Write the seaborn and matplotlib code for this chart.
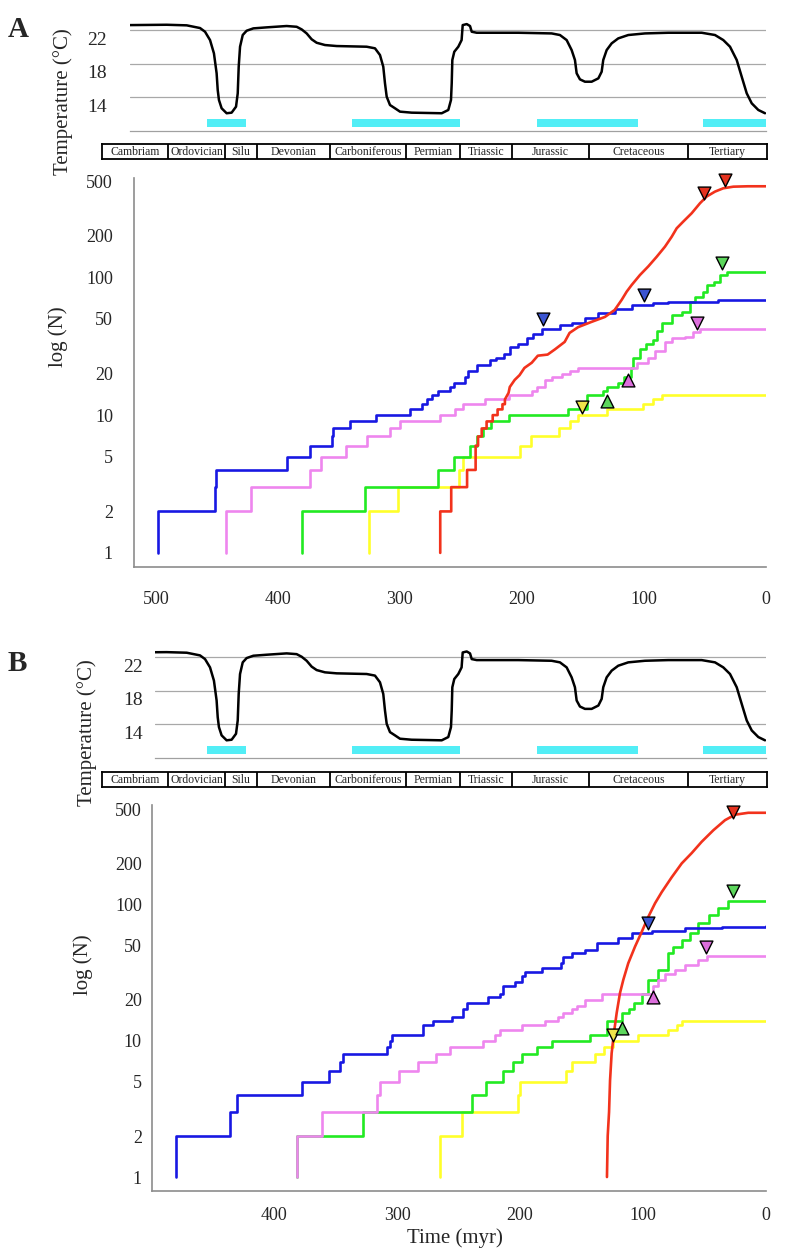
import matplotlib
matplotlib.use('Agg')
import matplotlib.pyplot as plt
import matplotlib.transforms as mtransforms
from matplotlib.ticker import FixedLocator, NullLocator
import seaborn as sns

# ---- temperature curve (myr before present, deg C), same in both panels
temp_time = [521.3, 491.2, 474.8, 463.9, 459.8, 455.7, 452.5, 450.3, 449.4, 448.4, 446.2, 442.1,
             438.0, 434.4, 433.0, 432.2, 431.1, 428.9, 425.7, 420.2, 409.3, 392.9, 384.7, 380.6,
             376.5, 372.4, 368.3, 361.5, 351.9, 327.3, 320.5, 316.4, 313.7, 312.3, 310.9, 308.2,
             304.1, 300.0, 290.4, 265.8, 260.4, 258.2, 257.6, 257.1, 255.5, 252.2, 249.5, 248.9,
             248.6, 245.3, 242.6, 241.2, 237.1, 203.0, 175.7, 168.9, 163.4, 159.3, 156.6, 155.2,
             152.5, 148.4, 142.9, 137.4, 134.7, 133.4, 130.6, 126.5, 121.1, 112.9, 99.2, 80.1,
             52.7, 41.8, 35.0, 29.5, 24.0, 19.9, 15.8, 11.7, 6.3, 0.8]
temp_value = [22.59, 22.63, 22.56, 22.24, 21.80, 20.81, 19.23, 16.86, 14.87, 13.69, 12.70, 12.11,
              12.18, 12.89, 14.48, 17.64, 20.02, 21.41, 21.92, 22.20, 22.32, 22.48, 22.39, 22.08,
              21.60, 20.90, 20.49, 20.22, 20.10, 20.02, 19.83, 19.03, 17.64, 15.67, 14.08, 13.09,
              12.70, 12.30, 12.18, 12.11, 12.50, 13.69, 15.67, 18.44, 19.42, 20.02, 20.81, 22.00,
              22.59, 22.71, 22.48, 21.80, 21.68, 21.68, 21.60, 21.41, 20.81, 19.62, 18.44, 16.86,
              16.14, 15.86, 15.86, 16.26, 17.05, 18.44, 19.62, 20.42, 21.01, 21.41, 21.60, 21.68,
              21.68, 21.41, 20.81, 20.02, 18.44, 16.45, 14.48, 13.29, 12.50, 12.11]
temp_ticks = [22, 18, 14]

# cold intervals (cyan bars)
cold_start = [458, 339, 188, 52]
cold_end = [426, 251, 105, 0]

# geological periods
period_names = ['Cambriam', 'Ordovician', 'Silu', 'Devonian', 'Carboniferous',
                'Permian', 'Triassic', 'Jurassic', 'Cretaceous', 'Tertiary']
period_bounds = [544, 490, 443, 417, 357, 295, 251, 208, 145, 64, 0]

count_ticks = [1, 2, 5, 10, 20, 50, 100, 200, 500]

# ---- panel A: cumulative number of lineages (step series: time, count)
a_blue_t = [498, 498, 452, 451, 393, 374, 356, 355, 341, 320, 292, 282, 278, 274, 269, 259, 256,
            247, 244, 237, 226, 221, 215, 210, 203, 196, 191, 184, 169, 159, 148, 138, 124, 110,
            93, 80, 39, 0]
a_blue_n = [1, 2, 3, 4, 5, 6, 7, 8, 9, 10, 11, 12, 13, 14, 15, 16, 17,
            19, 21, 23, 25, 26, 28, 31, 33, 36, 39, 42, 45, 47, 51, 55, 59, 63,
            65, 66, 69, 69]
a_violet_t = [443, 443, 422, 374, 365, 344, 327, 308, 300, 267, 255, 248, 230, 211, 192, 188, 181,
              175, 167, 161, 154, 106, 97, 91, 83, 77, 66, 60, 54, 0]
a_violet_n = [1, 2, 3, 4, 5, 6, 7, 8, 9, 10, 11, 12, 13, 14, 15, 16, 18,
              19, 20, 21, 22, 24, 26, 29, 34, 36, 37, 40, 42, 42]
a_green_t = [380, 380, 329, 269, 256, 243, 237, 232, 225, 211, 162, 147, 134, 130, 121, 116, 111,
             109, 103, 98, 93, 89, 85, 77, 69, 62, 58, 52, 48, 43, 38, 32, 0]
a_green_n = [1, 2, 3, 4, 5, 6, 7, 8, 9, 10, 11, 14, 15, 16, 17, 19, 22,
             26, 30, 33, 35, 41, 47, 53, 56, 66, 72, 78, 88, 92, 104, 110, 110]
a_yellow_t = [325, 325, 302, 252, 248, 202, 193, 170, 161, 154, 130, 101, 93, 85, 0]
a_yellow_n = [1, 2, 3, 4, 5, 6, 7, 8, 9, 10, 11, 12, 13, 14, 14]
# red series is drawn as a plain line
a_red_t = [267, 267, 258, 258, 245, 245, 238, 238, 236, 236, 233, 233, 229, 229, 224, 224, 220,
           220, 216, 216, 214, 214, 211, 210, 206, 202, 198, 192, 187, 179, 173, 165, 161, 154,
           143, 132, 124, 118.3, 114.2, 110.1, 103.3, 96.5, 89.6, 82.8, 77.3, 73.2, 67.8, 60.9,
           54.1, 48.6, 41.8, 35.0, 26.8, 15, 0]
a_red_n = [1, 2, 2, 3, 3, 4, 4, 6, 6, 7, 7, 8, 8, 9, 9, 10, 10,
           11, 11, 12, 12, 13, 14.5, 16, 18, 19.5, 22, 24, 27, 27.5, 30, 34, 39.5, 43.5,
           47.5, 51.6, 58, 68.6, 78.7, 88, 104, 120, 141, 167, 197, 227, 254, 292,
           345, 386, 419, 443, 455, 458, 458]
a_mark_t = [50.8, 33.6, 36.1, 182.8, 100, 56.6, 151, 113, 130]
a_mark_n = [409, 509, 127, 49.9, 74.5, 46.7, 11.5, 18, 12.7]
a_mark_c = ['red', 'red', 'green', 'blue', 'blue', 'violet', 'yellow', 'violet', 'green']
a_mark_m = ['v', 'v', 'v', 'v', 'v', 'v', 'v', '^', '^']

# ---- panel B
b_blue_t = [480, 480, 436, 430, 377, 355, 346, 344, 308, 306, 304, 279, 271, 255, 246, 243, 226,
            216, 214, 204, 198, 196, 182, 167, 165, 158, 147, 137, 120, 109, 93, 66, 36, 0]
b_blue_n = [1, 2, 3, 4, 5, 6, 7, 8, 9, 10, 11, 13, 14, 15, 17, 19, 21,
            22, 25, 27, 30, 32, 34, 37, 41, 44, 46, 52, 57, 62, 64, 67, 68, 69]
b_violet_t = [381, 381, 361, 316, 314, 298, 283, 268, 257, 230, 220, 216, 198, 180, 169, 165, 158,
              154, 147, 133, 92, 88, 82, 74, 66, 55, 48, 0]
b_violet_n = [1, 2, 3, 4, 5, 6, 7, 8, 9, 10, 11, 12, 13, 14, 15, 16, 17,
              18, 20, 22, 25, 28, 31, 33, 36, 39, 42, 42]
b_green_t = [381, 381, 328, 239, 228, 214, 206, 198, 186, 174, 143, 129, 117, 111, 107, 101, 96,
             88, 80, 76, 68, 62, 55, 46, 39, 31, 0]
b_green_n = [1, 2, 3, 4, 5, 6, 7, 8, 9, 10, 11, 14, 16, 17, 19, 22, 28,
             33, 44, 49, 55, 62, 73, 83, 94, 106, 106]
b_yellow_t = [265, 265, 247, 202, 200, 163, 158, 139, 132, 124, 104, 80, 72, 68, 0]
b_yellow_n = [1, 2, 3, 4, 5, 6, 7, 8, 9, 10, 11, 12, 13, 14, 14]
b_red_t = [129.3, 128.7, 127.6, 126.8, 125.5, 123.3, 121.4, 118.7, 116, 112, 106.5, 101, 95.7,
           90.2, 84.8, 76.7, 68.5, 60.4, 52.3, 42.8, 33.3, 25.2, 14.4, 0]
b_red_n = [1, 2, 3, 5.1, 8.1, 12, 16, 22.4, 28, 37, 49, 63, 81,
           102, 123, 158, 200, 238, 288, 350, 415, 455, 470, 470]
b_mark_t = [26.8, 26.8, 95.9, 48.8, 124.4, 91.9, 117]
b_mark_n = [476, 125, 73, 48.7, 11, 20.9, 12.4]
b_mark_c = ['red', 'green', 'blue', 'violet', 'yellow', 'violet', 'green']
b_mark_m = ['v', 'v', 'v', 'v', 'v', '^', '^']

line_colors = {'blue': '#1818e2', 'violet': '#ee86ee', 'green': '#22ea22',
               'yellow': '#ffff2a', 'red': '#f2321c'}
mark_colors = {'blue': '#3b55d2', 'violet': '#dc6edc', 'green': '#5cd65c',
               'yellow': '#efe34a', 'red': '#e4321f'}

sns.set_style('white')
plt.rcParams['font.family'] = ['Liberation Serif', 'DejaVu Serif']

W, H = 785, 1256
fig = plt.figure(figsize=(W / 100, H / 100), dpi=100)
GRAY = '#8c8c8c'


def add_ax(left, top, right, bottom):
    return fig.add_axes([left / W, 1 - bottom / H, (right - left) / W, (bottom - top) / H])


def px(x, y):
    return x / W, 1 - y / H


def draw_temperature(ax, x_left, label_pad):
    ax.set_xlim(x_left, 0)
    ax.set_ylim(10, 23.6)
    for v in temp_ticks:
        ax.axhline(v, color='#a8a8a8', linewidth=0.9, zorder=1)
    for s, e in zip(cold_start, cold_end):
        ax.fill_between([s, e], 10.45, 11.4, color='#52eef6', linewidth=0, zorder=2)
    sns.lineplot(x=temp_time, y=temp_value, sort=False, estimator=None, color='black',
                 linewidth=1.8, ax=ax, zorder=3, solid_joinstyle='round')
    for side in ['top', 'right', 'left']:
        ax.spines[side].set_visible(False)
    ax.spines['bottom'].set_color('#a0a0a0')
    ax.spines['bottom'].set_linewidth(0.9)
    ax.set_yticks([])
    ax.set_xticks([500, 400, 300, 200, 100])
    ax.set_xticklabels([])
    ax.tick_params(axis='x', length=2.5, color='#a0a0a0', direction='out')
    off = mtransforms.ScaledTranslation(-label_pad / 100, -0.10, fig.dpi_scale_trans)
    for v in temp_ticks:
        ax.text(0, v, str(v), transform=ax.get_yaxis_transform() + off,
                ha='right', va='center', fontsize=14)
    ax.set_xlabel('')
    ax.set_ylabel('')


def draw_periods(ax):
    ax.set_xlim(544, -0.8)
    ax.set_ylim(0, 1)
    for b in period_bounds[1:-1]:
        ax.axvline(b, color='black', linewidth=1.3)
    for name, a, b in zip(period_names, period_bounds[:-1], period_bounds[1:]):
        ax.text((a + b) / 2, 0.45, name, ha='center', va='center', fontsize=8.5)
    for sp in ax.spines.values():
        sp.set_color('black')
        sp.set_linewidth(1.3)
    ax.set_xticks([])
    ax.set_yticks([])


def draw_counts(ax, x_left, y_top, steps, red_t, red_n, mk_t, mk_n, mk_c, mk_m,
                xticks, ypad, xpad):
    ax.set_yscale('log')
    ax.set_xlim(x_left, 0)
    ax.set_ylim(0.79, y_top)
    for name, t, n in steps:
        sns.lineplot(x=t, y=n, sort=False, estimator=None, drawstyle='steps-post',
                     color=line_colors[name], linewidth=1.9, ax=ax, zorder=3)
    sns.lineplot(x=red_t, y=red_n, sort=False, estimator=None,
                 color=line_colors['red'], linewidth=1.9, ax=ax, zorder=4)
    for t, n, c, m in zip(mk_t, mk_n, mk_c, mk_m):
        sns.scatterplot(x=[t], y=[n], marker=m, color=mark_colors[c], edgecolor='black',
                        linewidth=1.0, s=85, ax=ax, zorder=6, legend=False, clip_on=False)
    ax.yaxis.set_major_locator(FixedLocator(count_ticks))
    ax.yaxis.set_minor_locator(NullLocator())
    ax.set_yticklabels([str(v) for v in count_ticks])
    ax.set_xticks(xticks)
    ax.set_xticklabels([str(v) for v in xticks])
    for side in ['top', 'right']:
        ax.spines[side].set_visible(False)
    for side in ['left', 'bottom']:
        ax.spines[side].set_color(GRAY)
        ax.spines[side].set_linewidth(1.2)
    ax.tick_params(axis='y', length=4.3, width=1, color=GRAY, direction='out',
                   pad=ypad, labelsize=13)
    ax.tick_params(axis='x', length=3.6, width=1, color=GRAY, direction='out',
                   pad=xpad, labelsize=13)
    ax.set_xlabel('')
    ax.set_ylabel('')


# ---- panel A
ta = add_ax(130, 16.6, 766, 131)
draw_temperature(ta, 521.3, 23)
pa = add_ax(102, 144, 767, 159)
draw_periods(pa)
ma = add_ax(134, 178, 766, 567)
draw_counts(ma, 518, 526,
            [('yellow', a_yellow_t, a_yellow_n), ('green', a_green_t, a_green_n),
             ('violet', a_violet_t, a_violet_n), ('blue', a_blue_t, a_blue_n)],
            a_red_t, a_red_n, a_mark_t, a_mark_n, a_mark_c, a_mark_m,
            [500, 400, 300, 200, 100, 0], 10.8, 13.5)

# ---- panel B
tb = add_ax(155, 644, 766, 758)
draw_temperature(tb, 500.8, 12)
pb = add_ax(102, 772, 767, 787)
draw_periods(pb)
mb = add_ax(152, 805, 766, 1191)
draw_counts(mb, 499.2, 536,
            [('yellow', b_yellow_t, b_yellow_n), ('green', b_green_t, b_green_n),
             ('violet', b_violet_t, b_violet_n), ('blue', b_blue_t, b_blue_n)],
            b_red_t, b_red_n, b_mark_t, b_mark_n, b_mark_c, b_mark_m,
            [400, 300, 200, 100, 0], 3, 8)

# ---- labels
fig.text(*px(8, 37), 'A', fontsize=21, fontweight='bold', ha='left', va='baseline')
fig.text(*px(8, 671), 'B', fontsize=21, fontweight='bold', ha='left', va='baseline')
fig.text(*px(63, 102), 'Temperature (°C)', rotation=90, fontsize=15, ha='center', va='center')
fig.text(*px(87, 733), 'Temperature (°C)', rotation=90, fontsize=15, ha='center', va='center')
fig.text(*px(58, 337), 'log (N)', rotation=90, fontsize=15, ha='center', va='center')
fig.text(*px(83, 965), 'log (N)', rotation=90, fontsize=15, ha='center', va='center')
fig.text(*px(455, 1238), 'Time (myr)', fontsize=15, ha='center', va='center')

fig.savefig('out.png', dpi=100)
